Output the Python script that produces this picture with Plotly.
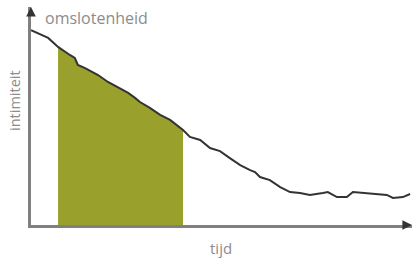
import plotly.graph_objects as go

# time (0-100) and intimacy (0-100)
tijd = [0, 1.8, 4.5, 7.1, 8.9, 10.2, 11.5, 12.3, 14.2, 16.0, 17.6, 20.2, 22.8, 25.5, 27.3,
        28.6, 31.2, 33.9, 36.5, 39.1, 39.9, 41.7, 44.4, 47.0, 49.6, 52.2, 54.9, 57.5, 58.8,
        60.1, 62.7, 65.4, 68.0, 70.6, 73.2, 76.6, 77.9, 80.3, 82.9, 84.5, 87.1, 90.8, 93.4,
        95.0, 97.6, 99.5]
intimiteit = [89.4, 88.1, 85.8, 81.7, 79.4, 78.0, 76.6, 73.4, 72.0, 70.2, 68.8, 65.6, 63.3,
              60.6, 58.3, 56.4, 53.7, 50.5, 48.2, 44.5, 43.6, 40.4, 39.0, 35.3, 33.9, 30.7,
              27.5, 25.2, 24.3, 22.0, 20.6, 17.4, 15.1, 14.7, 13.8, 14.7, 15.1, 12.8, 12.8,
              15.1, 14.7, 14.2, 13.8, 12.4, 12.8, 14.2]
periode_start = 7.1
periode_eind = 39.9

x_label = "tijd"
y_label = "intimiteit"
top_label = "omslotenheid"

fx = [t for t in tijd if periode_start <= t <= periode_eind]
fy = [v for t, v in zip(tijd, intimiteit) if periode_start <= t <= periode_eind]

fig = go.Figure()
fig.add_trace(go.Scatter(x=fx, y=fy, mode="lines", fill="tozeroy",
                         fillcolor="#99A12C", line=dict(width=0, color="#99A12C"),
                         hoverinfo="skip"))
fig.add_trace(go.Scatter(x=tijd, y=intimiteit, mode="lines",
                         line=dict(color="#333333", width=2)))

axis_col = "#808080"
head_col = "#333333"
# arrow heads (tail offset in pixels)
fig.add_annotation(x=0, y=100, ax=0, ay=10, xref="x", yref="y",
                   showarrow=True, arrowhead=2, arrowsize=1.2, arrowwidth=1.6,
                   arrowcolor=head_col, text="")
fig.add_annotation(x=100, y=0, ax=-10, ay=0, xref="x", yref="y",
                   showarrow=True, arrowhead=2, arrowsize=1.2, arrowwidth=1.6,
                   arrowcolor=head_col, text="")

fcol = "#8c8c8c"
fig.add_annotation(x=12 / 381, y=(225 - 18) / 218, xref="paper", yref="paper",
                   text=top_label, showarrow=False, xanchor="left", yanchor="middle",
                   font=dict(family="Open Sans", size=16, color=fcol))
fig.add_annotation(x=(14 - 31) / 381, y=(225 - 101) / 218, xref="paper", yref="paper",
                   text=y_label, showarrow=False, textangle=-90, xanchor="center",
                   yanchor="middle", font=dict(family="Open Sans", size=14.5, color=fcol))
fig.add_annotation(x=(221 - 31) / 381, y=(225 - 248) / 218, xref="paper", yref="paper",
                   text=x_label, showarrow=False, xanchor="center", yanchor="middle",
                   font=dict(family="Open Sans", size=15, color=fcol))

fig.update_layout(width=414, height=262, margin=dict(l=31, r=2, t=7, b=37),
                  plot_bgcolor="white", paper_bgcolor="white", showlegend=False,
                  xaxis=dict(range=[0, 100], showgrid=False, zeroline=False,
                             showticklabels=False, ticks="", showline=True,
                             linecolor=axis_col, linewidth=2.5),
                  yaxis=dict(range=[0, 100], showgrid=False, zeroline=False,
                             showticklabels=False, ticks="", showline=True,
                             linecolor=axis_col, linewidth=2.5))
fig.write_html("out.html", config={"displayModeBar": False},
               post_script="document.body.style.margin='0';document.body.style.overflow='hidden';")
